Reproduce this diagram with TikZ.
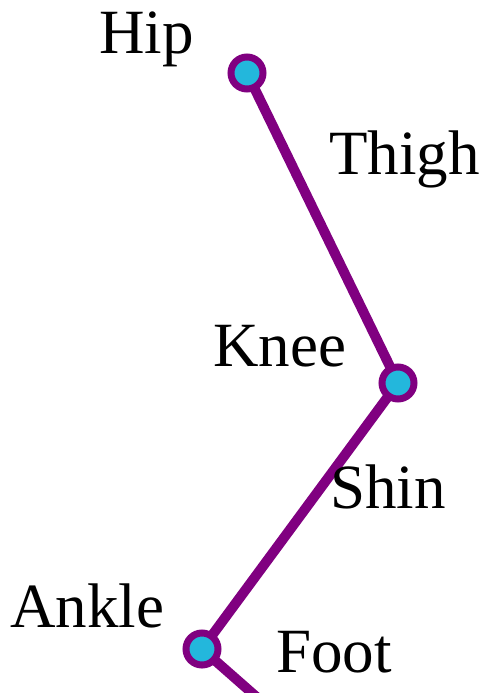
\documentclass[tikz,border=0pt]{standalone}
\usepackage{fontspec}
\setmainfont{Liberation Serif}
\begin{document}
\begin{tikzpicture}[x=1pt,y=-1pt,
  bone/.style={draw=limb, line width=10pt},
  joint/.style={circle, draw=limb, fill=jointfill, line width=7pt, minimum size=32pt, inner sep=0pt},
  lbl/.style={anchor=base west, inner sep=0pt, font=\fontsize{63}{75}\selectfont}]
\definecolor{limb}{RGB}{128,0,128}
\definecolor{jointfill}{RGB}{35,183,220}
\useasboundingbox (0,0) rectangle (485,693);
\clip (0,0) rectangle (485,693);
\coordinate (hipc) at (247,73);
\coordinate (kneec) at (398,383);
\coordinate (anklec) at (202,649);
\coordinate (toe) at (260,700);
\draw[bone] (hipc) -- (kneec) -- (anklec) -- (toe);
\node[joint] (hip) at (hipc) {};
\node[joint] (knee) at (kneec) {};
\node[joint] (ankle) at (anklec) {};
\node[lbl] (hipl) at (99,53) {Hip};
\node[lbl] (thighl) at (329,174) {Thigh};
\node[lbl] (kneel) at (213,366) {Knee};
\node[lbl] (shinl) at (330,508) {Shin};
\node[lbl] (anklel) at (10,627) {Ankle};
\node[lbl] (footl) at (276,672) {Foot};
\end{tikzpicture}
\end{document}
